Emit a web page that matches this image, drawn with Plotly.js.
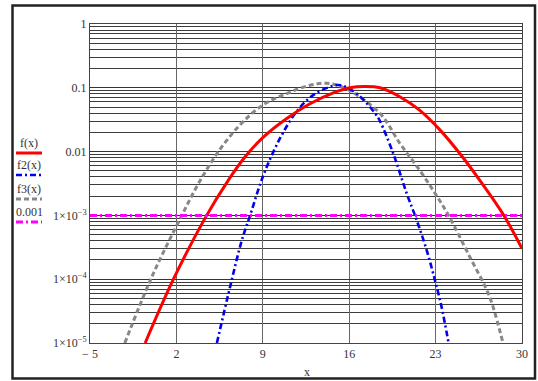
<!DOCTYPE html>
<html>
<head>
<meta charset="utf-8">
<script src="https://cdn.plot.ly/plotly-3.0.1.min.js"></script>
<style>html,body{margin:0;padding:0;background:#fff;}#chart{width:538px;height:381px;}</style>
</head>
<body>
<div id="chart"></div>
<script>
// ---- data ----
const fX = [-0.53, 1.76, 4.3, 6.2, 7.57, 9.0, 10.94, 12.82, 14.71, 16.06, 17.2, 18.5, 20.1, 21.7, 23.35, 24.96, 26.58, 28.46, 30];
const fY = [1.0e-5, 1.0e-4, 8.9e-4, 3.55e-3, 8.3e-3, 0.0166, 0.0331, 0.0562, 0.0832, 0.1, 0.1047, 0.1, 0.0724, 0.0447, 0.0219, 0.00933, 0.00355, 0.00105, 0.000302];

const f2X = [5.28, 6.35, 7.3, 7.97, 9.05, 10.4, 11.75, 13.1, 14.7, 15.3, 16.6, 18.1, 18.49, 19.57, 20.65, 21.46, 22.27, 22.94, 23.48, 24.05];
const f2Y = [1.0e-5, 7.59e-5, 4.07e-4, 1.0e-3, 4.27e-3, 0.0162, 0.0427, 0.0776, 0.1072, 0.1096, 0.0813, 0.0398, 0.0302, 9.33e-3, 2.24e-3, 8.51e-4, 2.88e-4, 9.77e-5, 3.72e-5, 1.0e-5];

const f3X = [-2.18, 0.02, 2.44, 3.79, 5.4, 7.16, 9.0, 10.94, 12.82, 14.17, 15.52, 18.49, 20.1, 21.7, 22.94, 24.05, 25.77, 27.1, 27.65, 28.46];
const f3Y = [1.0e-5, 1.10e-4, 1.0e-3, 3.16e-3, 0.01, 0.0263, 0.0537, 0.0813, 0.1096, 0.1175, 0.102, 0.0398, 0.0135, 0.00513, 0.00224, 0.001, 2.24e-4, 7.08e-5, 3.72e-5, 1.0e-5];

const levelX = [-5, 30];
const levelY = [0.001, 0.001];

const xTickVals = [-5, 2, 9, 16, 23, 30];
const xTickText = ['\u2212 5', '2', '9', '16', '23', '30'];
const yTickVals = [1, 0.1, 0.01, 1e-3, 1e-4, 1e-5];
const yTickText = ['1', '0.1', '0.01', '1\u00d710<sup>\u22123</sup>', '1\u00d710<sup>\u22124</sup>', '1\u00d710<sup>\u22125</sup>'];

const legendNames = ['f(x)', 'f2(x)', 'f3(x)', '0.001'];
const colRed = '#ff0000', colBlue = '#0000ee', colGray = '#888888', colMag = '#ff00ff';

// ---- layout helpers ----
const W = 538, H = 381;
const M = {l: 90, r: 16, t: 24, b: 38};
const pw = W - M.l - M.r, ph = H - M.t - M.b;
const px = v => (v - M.l) / pw;
const py = v => (H - M.b - v) / ph;

// minor log grid at 2..9 x 10^n
const yMinorVals = [];
yTickVals.forEach(v => { if (v < 1) for (let k = 2; k <= 9; k++) yMinorVals.push(k * v); });

const font = {family: 'Liberation Serif, Times New Roman, serif', size: 12, color: '#333'};

const traces = [
  {x: f3X, y: f3Y, mode: 'lines', line: {color: colGray, width: 3, dash: '5px,3px', shape: 'spline'}, name: legendNames[2]},
  {x: f2X, y: f2Y, mode: 'lines', line: {color: colBlue, width: 2.6, dash: '6px,3px,2px,3px', shape: 'spline'}, name: legendNames[1]},
  {x: fX, y: fY, mode: 'lines', line: {color: colRed, width: 3, shape: 'spline'}, name: legendNames[0]},
  {x: levelX, y: levelY, mode: 'lines', line: {color: colMag, width: 3, dash: '7px,3px,2px,3px'}, name: legendNames[3]}
];

// legend keys (text above a line sample), drawn left of the plot
const legY = [143, 165, 189, 212];
const legStyle = [
  {color: colRed, width: 3, dash: 'solid'},
  {color: colBlue, width: 2.6, dash: '6px,3px,2px,3px'},
  {color: colGray, width: 3, dash: '5px,3px'},
  {color: colMag, width: 3, dash: '7px,3px,2px,3px'}
];
const annotations = [], shapes = [];
legendNames.forEach((n, i) => {
  annotations.push({xref: 'paper', yref: 'paper', x: px(29), y: py(legY[i]), text: n, showarrow: false,
    xanchor: 'center', yanchor: 'middle', font: font});
  shapes.push({type: 'line', xref: 'paper', yref: 'paper', x0: px(16), x1: px(42), y0: py(legY[i] + 10), y1: py(legY[i] + 10),
    line: legStyle[i]});
});
annotations.push({xref: 'paper', yref: 'paper', x: px(307), y: py(372), text: 'x', showarrow: false,
  xanchor: 'center', yanchor: 'middle', font: font});
// outer frame
shapes.push({type: 'rect', xref: 'paper', yref: 'paper', x0: px(12.5), x1: px(535), y0: py(5.5), y1: py(378.5),
  line: {color: '#222', width: 2.5}});

const layout = {
  width: W, height: H,
  margin: M,
  paper_bgcolor: '#fff', plot_bgcolor: '#fff',
  showlegend: false,
  font: font,
  xaxis: {
    type: 'linear', range: [-5, 30], tickmode: 'array', tickvals: xTickVals, ticktext: xTickText,
    showgrid: true, gridcolor: '#666', gridwidth: 1, zeroline: false,
    showline: true, linecolor: '#444', linewidth: 1, mirror: true, ticks: '', tickfont: font
  },
  yaxis: {
    type: 'log', range: [-5, 0], tickmode: 'array', tickvals: yTickVals, ticktext: yTickText,
    showgrid: true, gridcolor: '#333', gridwidth: 1, zeroline: false,
    minor: {tickmode: 'array', tickvals: yMinorVals, showgrid: true, gridcolor: '#3c3c3c', gridwidth: 1, ticks: ''},
    showline: true, linecolor: '#444', linewidth: 1, mirror: true, ticks: '', tickfont: font
  },
  annotations: annotations,
  shapes: shapes
};

Plotly.newPlot('chart', traces, layout, {staticPlot: true, displayModeBar: false});
</script>
</body>
</html>
